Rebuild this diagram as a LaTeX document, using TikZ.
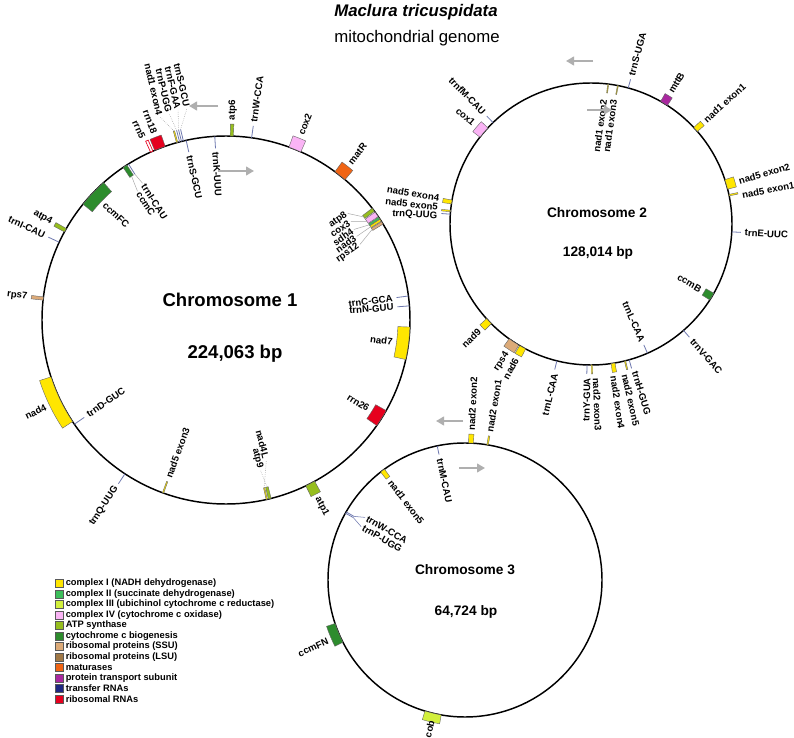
\documentclass[tikz,border=0pt]{standalone}
\usepackage{fontspec}
\setmainfont{Liberation Sans}
\usetikzlibrary{arrows.meta}
\definecolor{cI}{RGB}{255,230,0}
\definecolor{cII}{RGB}{60,190,90}
\definecolor{cIII}{RGB}{210,240,60}
\definecolor{cIV}{RGB}{250,180,245}
\definecolor{cATP}{RGB}{150,190,30}
\definecolor{cCCM}{RGB}{45,140,45}
\definecolor{cSSU}{RGB}{220,170,120}
\definecolor{cLSU}{RGB}{160,120,70}
\definecolor{cMAT}{RGB}{240,100,20}
\definecolor{cMTT}{RGB}{170,40,160}
\definecolor{cTRN}{RGB}{30,40,130}
\definecolor{cRRN}{RGB}{230,0,30}
\definecolor{trnline}{RGB}{110,120,175}
\definecolor{arrowgray}{RGB}{175,175,175}
\newcounter{glc}
\newcommand\glab[4]{%
  \stepcounter{glc}%
  \pgfmathsetmacro\glA{mod(#1+450,360)}%
  \ifdim\glA pt<180pt
    \if#3o\def\glanc{west}\else\def\glanc{east}\fi
    \pgfmathsetmacro\glrot{#1}%
  \else
    \if#3o\def\glanc{east}\else\def\glanc{west}\fi
    \pgfmathsetmacro\glrot{#1-180}%
  \fi
  \node[glabel, anchor=\glanc, rotate=\glrot] (gl\arabic{glc}) at (#1:#2) {#4};%
}
\newcommand\glabr[5]{\stepcounter{glc}\node[glabel, anchor=#3, rotate=#4] (gl\arabic{glc}) at (#1:#2) {#5};}
\newcommand\gbox[6][]{%
  \filldraw[genebox, fill=#2, #1] (#3:#5) arc[start angle=#3, end angle=#4, radius={(#5)*0.75pt}] -- (#4:#6) arc[start angle=#4, end angle=#3, radius={(#6)*0.75pt}] -- cycle;}
\newcommand\gtick[4][trna]{\draw[#1] (#2:#3) -- (#2:#4);}
\newcommand\glead[5][leader]{\draw[#1] (#2:#3) -- (#4:#5);}
\tikzset{
  glabel/.style={font=\fontsize{7.2}{8}\selectfont\bfseries, inner sep=0.6pt},
  genebox/.style={draw=black!60, line width=0.3pt},
  chromo/.style={draw=black, line width=1.1pt},
  trna/.style={draw=trnline, line width=0.6pt},
  leader/.style={draw=black!35, line width=0.35pt},
  dotlead/.style={draw=black!40, line width=0.4pt, densely dotted},
  dirarrow/.style={draw=arrowgray, line width=2pt, -{Triangle[length=6pt,width=6.5pt]}},
  bigname/.style={font=\fontsize{13.9}{16}\selectfont\bfseries},
  smallname/.style={font=\fontsize{10.3}{12}\selectfont\bfseries},
  legsq/.style={draw=black!65, line width=0.4pt, minimum size=6pt, inner sep=0pt},
  legtext/.style={font=\fontsize{7}{8}\selectfont\bfseries, anchor=west, inner sep=0pt}
}
\begin{document}
\begin{tikzpicture}[x=0.75pt,y=0.75pt]
\useasboundingbox (0,0) rectangle (794,-738);
\fill[white] (0,0) rectangle (794,-738);
% titles
\node[font=\fontsize{12.6}{14}\selectfont\bfseries\itshape] (title) at (416,-12) {Maclura tricuspidata};
\node[font=\fontsize{12.6}{14}\selectfont] (subtitle) at (417,-38) {mitochondrial genome};

% ---------------- Chromosome 1 ----------------
\begin{scope}[shift={(226,-320)}]
\def\R{184}\def\Ro{196}\def\Ri{172}\def\Lo{199}\def\Li{169}
\coordinate (c1) at (0,0);
\draw[chromo] (c1) circle[radius=138pt];
% rRNA
\gbox[draw=cRRN, line width=0.5pt]{white}{113.4}{114.2}{\R}{\Ro}\glab{114.6}{\Lo}{o}{rrn5}
\gbox{cRRN}{109.3}{112.8}{\R}{\Ro}\glab{111}{\Lo}{o}{rrn18}
% top group
\gbox{cI}{105.2}{105.6}{\R}{\Ro}
\gtick{104.6}{\R}{\Ro}\gtick{104.0}{\R}{\Ro}\gtick{103.4}{\R}{\Ro}
\glead[dotlead]{105.4}{\Ro}{108}{213.5}
\glead[dotlead]{104.6}{\Ro}{105.4}{213.8}
\glead[dotlead]{104.0}{\Ro}{102.9}{214.5}
\glead[dotlead]{103.4}{\Ro}{100.4}{215.6}
\glabr{108}{214.4}{east}{-77}{nad1 exon4}
\glabr{105.4}{214.7}{east}{-77}{trnP-UGG}
\glabr{102.9}{215.4}{east}{-77}{trnF-GAA}
\glabr{100.4}{216.5}{east}{-77}{trnS-GCU}
\gtick{102.5}{\Ri}{\R}\glab{102.5}{\Li}{i}{trnS-GCU}
\gtick{93.5}{\Ri}{\R}\glab{93.5}{\Li}{i}{trnK-UUU}
\gbox{cATP}{87.7}{88.7}{\R}{\Ro}\glab{88.2}{\Lo}{o}{atp6}
\gtick{82}{\R}{\Ro}\glab{82}{\Lo}{o}{trnW-CCA}
\gbox{cIV}{66}{70}{\R}{\Ro}\glab{68}{\Lo}{o}{cox2}
\gbox{cMAT}{49.7}{53.7}{\R}{\Ro}\glab{51.7}{\Lo}{o}{matR}
% atp8 group
\gbox{cATP}{36.2}{37.4}{\Ri}{\R}
\gbox{cIV}{34.2}{35.9}{\Ri}{\R}
\gbox{cII}{33.3}{34.0}{\Ri}{\R}
\gbox{cI}{32.5}{33.2}{\Ri}{\R}
\gbox{cSSU}{31.4}{32.3}{\Ri}{\R}
\glead{36.8}{\Ri}{41.2}{161.8}
\glead{35.0}{\Ri}{38.3}{159}
\glead{33.6}{\Ri}{35.3}{156.7}
\glead{32.8}{\Ri}{32.6}{155.2}
\glead{31.8}{\Ri}{29.4}{153.7}
\glabr{41.2}{160.9}{east}{35}{atp8}
\glabr{38.3}{158.0}{east}{35}{cox3}
\glabr{35.3}{155.7}{east}{35}{sdh4}
\glabr{32.6}{154.2}{east}{35}{nad3}
\glabr{29.4}{152.7}{east}{35}{rps12}
\gtick{7.5}{\Ri}{\R}\glab{7.5}{\Li}{i}{trnC-GCA}
\gtick{4.4}{\Ri}{\R}\glab{4.4}{\Li}{i}{trnN-GUU}
\gbox{cI}{-12.4}{-2.2}{\Ri}{\R}\glab{-7.5}{\Li}{i}{nad7}
\gbox{cRRN}{-35}{-29.5}{\Ri}{\R}\glab{-32}{\Li}{i}{rrn26}
\gbox{cATP}{-64.3}{-61.2}{\R}{\Ro}\glab{-62.8}{\Lo}{o}{atp1}
% nad4L / atp9
\gbox{cATP}{-76.7}{-75.8}{\Ri}{\R}
\gbox{cI}{-77.4}{-77.0}{\Ri}{\R}
\glead[dotlead]{-77.2}{\Ri}{-73.9}{145.6}
\glead[dotlead]{-76.2}{\Ri}{-77.1}{153.8}
\glabr{-73.9}{144.6}{east}{-76}{nad4L}
\glabr{-77.1}{152.8}{east}{-76}{atp9}
\gbox{cI}{-110.2}{-109.8}{\Ri}{\R}\glab{-110}{\Li}{i}{nad5 exon3}
\gtick{236.7}{\R}{\Ro}\glab{236.7}{\Lo}{o}{trnQ-UUG}
\gtick{214.5}{\Ri}{\R}\glab{214.5}{\Li}{i}{trnD-GUC}
\gbox{cI}{198}{213.5}{\R}{\Ro}\glab{205.7}{\Lo}{o}{nad4}
\gbox{cSSU}{172.8}{173.8}{\R}{\Ro}\glab{173.3}{\Lo}{o}{rps7}
\gtick{155}{\R}{\Ro}\glab{155}{\Lo}{o}{trnI-CAU}
\gbox{cATP}{150.2}{151.4}{\R}{\Ro}\glab{150.8}{\Lo}{o}{atp4}
\gbox{cCCM}{131.7}{141}{\Ri}{\R}\glab{136.4}{\Li}{i}{ccmFC}
% ccmC / trnI-CAU
\gbox{cCCM}{122.6}{124}{\Ri}{\R}
\gtick{122}{\Ri}{\R}
\glead{122}{\Ri}{121.4}{160.3}
\glead{123.3}{\Ri}{124.5}{156.3}
\glabr{121.4}{159.3}{west}{-57}{trnI-CAU}
\glabr{124.5}{155.3}{west}{-57}{ccmC}
\end{scope}

% ---------------- Chromosome 2 ----------------
\begin{scope}[shift={(591,-224)}]
\def\R{141}\def\Ro{150}\def\Ri{132}\def\Lo{153}\def\Li{129}
\coordinate (c2) at (0,0);
\draw[chromo] (c2) circle[radius=105.75pt];
\gbox{cIV}{137}{142}{\R}{\Ro}\glab{139.5}{\Lo}{o}{cox1}
\gtick{134}{\R}{\Ro}\glab{134}{\Lo}{o}{trnfM-CAU}
\gbox{cI}{82.8}{83.2}{\Ri}{\R}
\gbox{cI}{78.8}{79.2}{\Ri}{\R}
\glabr{84.1}{125.7}{east}{82}{nad1 exon2}
\glabr{79.6}{127.1}{east}{82}{nad1 exon3}
\gtick{74.7}{\R}{\Ro}\glab{74.7}{\Lo}{o}{trnS-UGA}
\gbox{cMTT}{57.2}{60.4}{\R}{\Ro}\glab{58.8}{\Lo}{o}{mttB}
\gbox{cI}{41}{43.2}{\R}{\Ro}\glab{42.2}{\Lo}{o}{nad1 exon1}
\gbox{cI}{14.3}{18.3}{\R}{\Ro}\glab{16.2}{\Lo}{o}{nad5 exon2}
\gbox{cI}{11.5}{12.1}{\R}{\Ro}\glab{10.8}{\Lo}{o}{nad5 exon1}
\gtick{-3.2}{\R}{\Ro}\glab{-3.2}{\Lo}{o}{trnE-UUC}
\gbox{cCCM}{-32.6}{-29.4}{\Ri}{\R}\glab{-31}{\Li}{i}{ccmB}
\gtick{-49}{\R}{\Ro}\glab{-49}{\Lo}{o}{trnV-GAC}
\gtick{-66.4}{\Ri}{\R}\glab{-66.4}{\Li}{i}{trnL-CAA}
\gtick{-74.3}{\R}{\Ro}\glab{-73.4}{\Lo}{o}{trnH-GUG}
\gbox{cI}{-76.3}{-75.8}{\R}{\Ro}\glab{-77.3}{\Lo}{o}{nad2 exon5}
\gbox{cI}{-81.8}{-80.2}{\R}{\Ro}\glab{-81.5}{\Lo}{o}{nad2 exon4}
\gbox{cI}{-89.9}{-89.4}{\R}{\Ro}\glab{-88}{\Lo}{o}{nad2 exon3}
\gtick{268.4}{\R}{\Ro}\glab{268.6}{\Lo}{o}{trnY-GUA}
\gtick{256}{\R}{\Ro}\glab{256.5}{\Lo}{o}{trnL-CAA}
\gbox{cI}{239.6}{242.4}{\R}{\Ro}\glab{241}{\Lo}{o}{nad6}
\gbox{cSSU}{234.5}{239.2}{\R}{\Ro}\glab{237}{\Lo}{o}{rps4}
\gbox{cI}{222.2}{225}{\R}{\Ro}\glab{223.6}{\Lo}{o}{nad9}
\gtick{176}{\R}{\Ro}\glab{177.1}{\Lo}{o}{trnQ-UUG}
\gbox{cI}{174.4}{175}{\R}{\Ro}\glab{173.7}{\Lo}{o}{nad5 exon5}
\gbox{cI}{170.2}{171.8}{\R}{\Ro}\glab{170.3}{\Lo}{o}{nad5 exon4}
\end{scope}

% ---------------- Chromosome 3 ----------------
\begin{scope}[shift={(465,-580)}]
\def\R{137}\def\Ro{146}\def\Ri{128}\def\Lo{149}\def\Li{125}
\coordinate (c3) at (0,0);
\draw[chromo] (c3) circle[radius=102.75pt];
\gbox{cI}{86.5}{88.5}{\R}{\Ro}\glab{87.5}{\Lo}{o}{nad2 exon2}
\gbox{cI}{80.2}{80.8}{\R}{\Ro}\glab{80.5}{\Lo}{o}{nad2 exon1}
\gtick{101.7}{\Ri}{\R}\glab{101.7}{\Li}{i}{trnM-CAU}
\gbox{cI}{126}{128}{\Ri}{\R}\glab{127}{\Li}{i}{nad1 exon5}
\gtick{150.2}{\Ri}{\R}\gtick{150.8}{\Ri}{\R}
\glead[trna, line width=0.4pt]{150.2}{\Ri}{147.9}{117.8}
\glead[trna, line width=0.4pt]{150.8}{\Ri}{152.8}{116.8}
\glabr{147.9}{116.8}{west}{-30}{trnW-CCA}
\glabr{152.8}{115.8}{west}{-30}{trnP-UGG}
\gbox{cCCM}{198.5}{207}{\R}{\Ro}\glab{204}{\Lo}{o}{ccmFN}
\gbox{cIII}{253}{260}{\R}{\Ro}\glab{256.6}{143.5}{o}{cob}
\end{scope}

% chromosome names
\node[bigname] (n1) at (230,-300) {Chromosome 1};
\node[bigname] (s1) at (235,-354) {224,063 bp};
\node[smallname] (n2) at (597,-213) {Chromosome 2};
\node[smallname] (s2) at (598,-253) {128,014 bp};
\node[smallname] (n3) at (465,-570) {Chromosome 3};
\node[smallname] (s3) at (466,-612) {64,724 bp};

% direction arrows
\draw[dirarrow] (218,-106) -- (189,-106);
\draw[dirarrow] (218,-171) -- (254,-171);
\draw[dirarrow] (593,-61) -- (566,-61);
\draw[dirarrow] (587,-110) -- (612,-110);
\draw[dirarrow] (463,-421) -- (436,-421);
\draw[dirarrow] (459,-468) -- (485,-468);

% legend
\foreach \c/\t [count=\i] in {cI/complex I (NADH dehydrogenase),
  cII/complex II (succinate dehydrogenase),
  cIII/complex III (ubichinol cytochrome c reductase),
  cIV/complex IV (cytochrome c oxidase),
  cATP/ATP synthase,
  cCCM/cytochrome c biogenesis,
  cSSU/ribosomal proteins (SSU),
  cLSU/ribosomal proteins (LSU),
  cMAT/maturases,
  cMTT/protein transport subunit,
  cTRN/transfer RNAs,
  cRRN/ribosomal RNAs}{
  \node[legsq, fill=\c] (lsq\i) at (59.5,{-583.3-10.5*(\i-1)}) {};
  \node[legtext] (lt\i) at (65.5,{-583.3-10.5*(\i-1)}) {\t};
}
\end{tikzpicture}
\end{document}
